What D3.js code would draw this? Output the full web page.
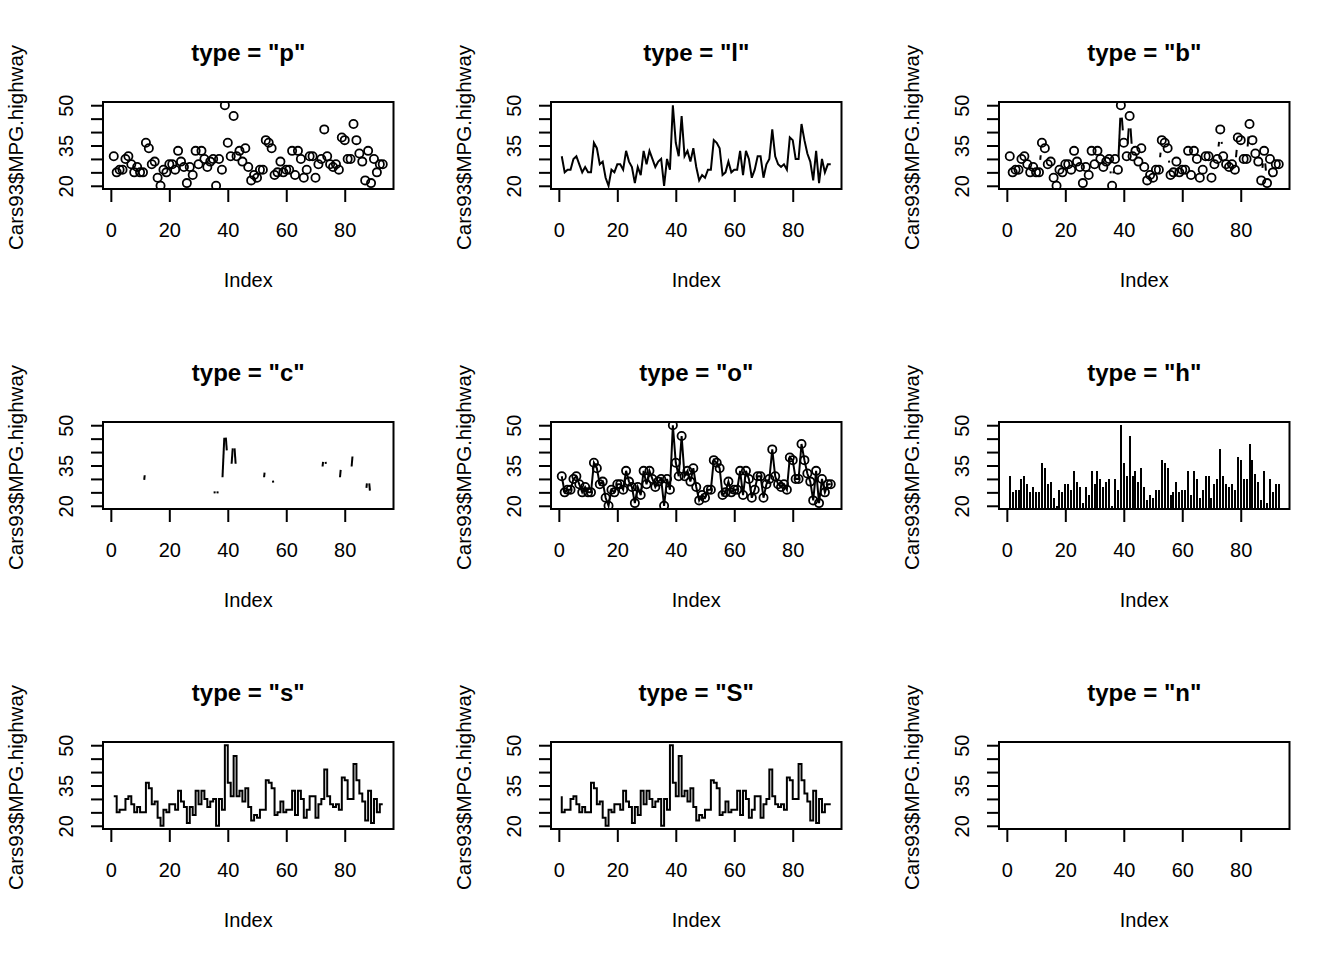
<!DOCTYPE html>
<html>
<head>
<meta charset="utf-8">
<script src="https://cdn.jsdelivr.net/npm/d3@7"></script>
<style>
  html, body { margin: 0; padding: 0; background: #fff; }
  svg { display: block; }
  text { font-family: "Liberation Sans", Arial, sans-serif; fill: #000; }
</style>
</head>
<body>
<svg id="chart" width="1344" height="960"></svg>
<script>
// Cars93$MPG.highway (93 cars)
const mpgHighway = [31,25,26,26,30,31,28,25,27,25,25,36,34,28,29,23,20,26,25,28,
  28,26,33,29,27,21,27,24,33,28,33,30,27,29,30,20,30,26,50,36,
  31,46,31,33,29,34,27,22,24,23,26,26,37,36,34,24,25,29,25,26,
  26,33,24,33,30,23,26,31,31,23,28,30,41,31,28,27,28,26,38,37,
  30,30,43,37,32,29,22,33,21,30,25,28,28];
const plotTypes = ["p", "l", "b", "c", "o", "h", "s", "S", "n"];
const xTicks = [0, 20, 40, 60, 80];
const yTicks = [20, 25, 30, 35, 40, 45, 50];
const yTickLabels = ["20", "35", "50"];
const yLabel = "Cars93$MPG.highway";
const xLabel = "Index";

const svg = d3.select("#chart");
const panelW = 448, panelH = 320;
const box = { left: 103, right: 393.5, top: 102, bottom: 189 };
const n = mpgHighway.length;
const data = mpgHighway.map((v, i) => ({ i: i + 1, v }));

const xExt = (n - 1) * 0.04;
const yMin = d3.min(mpgHighway), yMax = d3.max(mpgHighway);
const yExt = (yMax - yMin) * 0.04;
const x = d3.scaleLinear().domain([1 - xExt, n + xExt]).range([box.left, box.right]);
const y = d3.scaleLinear().domain([yMin - yExt, yMax + yExt]).range([box.bottom, box.top]);

const LW = 2;
const PR = 4.1;
const GAP = 12.5;

plotTypes.forEach((t, k) => {
  const col = k % 3, row = Math.floor(k / 3);
  const g = svg.append("g").attr("transform", `translate(${col * panelW},${row * panelH})`);
  const clipId = "clip" + k;
  g.append("clipPath").attr("id", clipId).append("rect")
    .attr("x", box.left).attr("y", box.top)
    .attr("width", box.right - box.left).attr("height", box.bottom - box.top);
  const plot = g.append("g").attr("clip-path", `url(#${clipId})`);

  const drawLine = (curve) => {
    plot.append("path").datum(data)
      .attr("d", d3.line().x(d => x(d.i)).y(d => y(d.v)).curve(curve))
      .attr("fill", "none").attr("stroke", "#000").attr("stroke-width", LW)
      .attr("stroke-linejoin", "miter");
  };
  const drawPoints = () => {
    plot.selectAll("circle.pt").data(data).join("circle").attr("class", "pt")
      .attr("cx", d => x(d.i)).attr("cy", d => y(d.v)).attr("r", PR)
      .attr("fill", "none").attr("stroke", "#000").attr("stroke-width", 1.8);
  };
  const drawGapLines = () => {
    const segs = [];
    for (let j = 1; j < data.length; j++) {
      const x0 = x(data[j - 1].i), y0 = y(data[j - 1].v);
      const x1 = x(data[j].i), y1 = y(data[j].v);
      const L = Math.hypot(x1 - x0, y1 - y0);
      const f = GAP / L;
      if (f < 0.5) {
        segs.push([x0 + f * (x1 - x0), y0 + f * (y1 - y0), x1 + f * (x0 - x1), y1 + f * (y0 - y1)]);
      }
    }
    plot.selectAll("line.seg").data(segs).join("line").attr("class", "seg")
      .attr("x1", s => s[0]).attr("y1", s => s[1]).attr("x2", s => s[2]).attr("y2", s => s[3])
      .attr("stroke", "#000").attr("stroke-width", LW);
  };

  if (t === "p") drawPoints();
  if (t === "l") drawLine(d3.curveLinear);
  if (t === "b") { drawPoints(); drawGapLines(); }
  if (t === "c") drawGapLines();
  if (t === "o") { drawLine(d3.curveLinear); drawPoints(); }
  if (t === "h") {
    plot.selectAll("line.h").data(data).join("line").attr("class", "h")
      .attr("x1", d => x(d.i)).attr("x2", d => x(d.i))
      .attr("y1", y(0)).attr("y2", d => y(d.v))
      .attr("stroke", "#000").attr("stroke-width", 2).attr("shape-rendering", "crispEdges");
  }
  if (t === "s") drawLine(d3.curveStepAfter);
  if (t === "S") drawLine(d3.curveStepBefore);

  // frame
  g.append("rect").attr("x", box.left).attr("y", box.top)
    .attr("width", box.right - box.left).attr("height", box.bottom - box.top)
    .attr("fill", "none").attr("stroke", "#000").attr("stroke-width", 2);

  // x axis
  const xa = g.append("g").attr("transform", `translate(0,${box.bottom})`)
    .call(d3.axisBottom(x).tickValues(xTicks).tickSize(13).tickFormat(d3.format("d")));
  xa.select(".domain").remove();
  xa.selectAll(".tick line").attr("stroke", "#000").attr("stroke-width", 2);
  xa.selectAll(".tick text").attr("y", 48).attr("dy", 0)
    .style("font-size", "20px").style("font-family", '"Liberation Sans", Arial, sans-serif').attr("fill", "#000");

  // y axis
  const ya = g.append("g").attr("transform", `translate(${box.left},0)`)
    .call(d3.axisLeft(y).tickValues(yTicks).tickSize(12)
      .tickFormat(d => yTickLabels.includes(String(d)) ? String(d) : ""));
  ya.select(".domain").remove();
  ya.selectAll(".tick line").attr("stroke", "#000").attr("stroke-width", 2);
  ya.selectAll(".tick text").attr("x", 0).attr("y", -30).attr("dy", 0)
    .attr("transform", "rotate(-90)").attr("text-anchor", "middle")
    .style("font-size", "20px").style("font-family", '"Liberation Sans", Arial, sans-serif').attr("fill", "#000");

  // labels
  const cx = (box.left + box.right) / 2, cy = (box.top + box.bottom) / 2;
  g.append("text").attr("x", cx).attr("y", 61).attr("text-anchor", "middle")
    .style("font-size", "24px").style("font-weight", "bold").text(`type = "${t}"`);
  g.append("text").attr("x", cx).attr("y", 287).attr("text-anchor", "middle")
    .style("font-size", "20px").text(xLabel);
  g.append("text").attr("transform", `translate(23,${cy + 2}) rotate(-90)`).attr("text-anchor", "middle")
    .style("font-size", "20.5px").text(yLabel);
});
</script>
</body>
</html>
